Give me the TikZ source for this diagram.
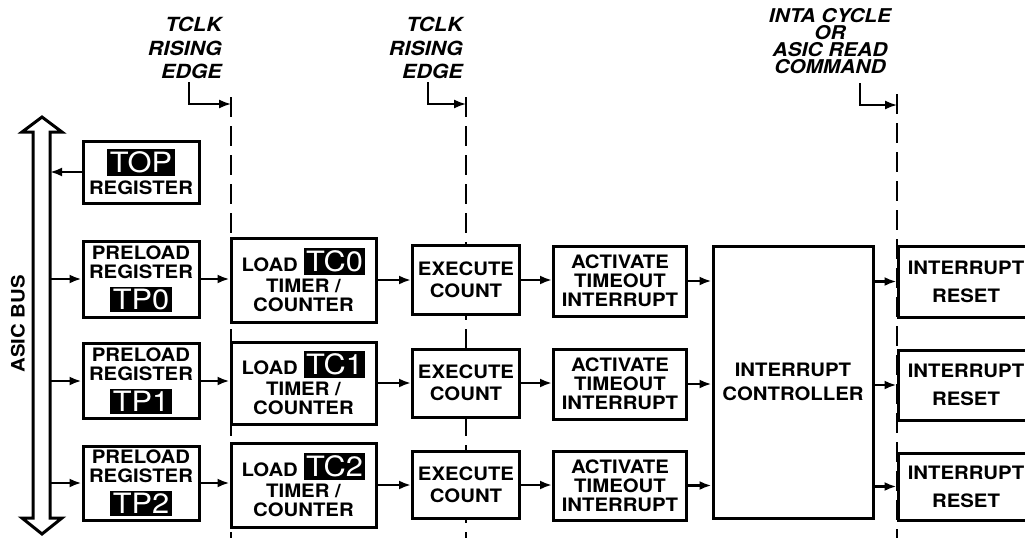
\documentclass[tikz,border=0pt]{standalone}
\usepackage{fontspec}
\setmainfont{TeX Gyre Heros}[FakeStretch=1.1]
\usetikzlibrary{arrows.meta}
\tikzset{blockbox/.style={draw=black,line width=3pt,fill=white,align=center,inner sep=0pt,
  font=\fontsize{18.5}{19}\selectfont\bfseries}}
\tikzset{sig/.style={line width=2.5pt,-{Latex[length=12pt,width=9pt]}}}
\tikzset{clkline/.style={line width=1.4pt,dash pattern=on 20pt off 9pt}}
\tikzset{edgelbl/.style={inner sep=0pt,font=\fontsize{19.5}{23.5}\selectfont\bfseries\itshape}}
\newcommand{\Blk}[1]{{\setlength{\fboxsep}{2.5pt}\colorbox{black}{\textcolor{white}{\fontsize{28}{28}\selectfont\mdseries #1}}}}

\begin{document}
\begin{tikzpicture}[x=1pt,y=-1pt]
\useasboundingbox (0,0) rectangle (1025,538);
\clip (0,0) rectangle (1025,538);
% \draw[help lines,step=50] (0,0) grid (1025,538);
\coordinate (bot) at (0,538);
\coordinate (clkA) at (231,97);
\coordinate (clkB) at (466,97);
\coordinate (clkC) at (897,94);
\draw[clkline] (clkA) -- (clkA |- bot);
\draw[clkline] (clkB) -- (clkB |- bot);
\draw[clkline] (clkC) -- (clkC |- bot);
%
\node (tclkA) [edgelbl,align=right,anchor=north east] at (222,17) {TCLK\\RISING\\EDGE};
\node (tclkB) [edgelbl,align=right,anchor=north east] at (463,17) {TCLK\\RISING\\EDGE};
\node (inta) [edgelbl,align=center,anchor=north,font=\fontsize{19}{17}\selectfont\bfseries\itshape] at (830,8) {INTA CYCLE\\OR\\ASIC READ\\COMMAND};
\coordinate (tA) at (189,82);
\coordinate (tB) at (428,82);
\coordinate (tC) at (860,83);
\draw[sig,line width=1.6pt] (tA) |- (clkA |- 0,104);
\draw[sig,line width=1.6pt] (tB) |- (clkB |- 0,104);
\draw[sig,line width=1.6pt] (tC) |- (clkC |- 0,105);
%
\draw[line width=3pt,line join=miter] (33,518) -- (33,132) -- (22,132) -- (42,117) -- (62,132) -- (50,132)
  -- (50,518) -- (62,518) -- (42,534) -- (22,518) -- cycle;
\coordinate (busR) at (50,0);
\node (buslbl) [rotate=90,inner sep=0pt,font=\fontsize{18.5}{18}\selectfont\bfseries] at (18,324) {ASIC BUS};
%
\node (top) [blockbox,minimum width=116,minimum height=62] at (141,172) {\Blk{TOP}\\[3pt]REGISTER};
\node (pre0) [blockbox,minimum width=116,minimum height=76] at (141,279) {PRELOAD\\REGISTER\\[7pt]\Blk{TP0}};
\node (pre1) [blockbox,minimum width=116,minimum height=75] at (141,381) {PRELOAD\\REGISTER\\[7pt]\Blk{TP1}};
\node (pre2) [blockbox,minimum width=116,minimum height=74] at (141,483) {PRELOAD\\REGISTER\\[7pt]\Blk{TP2}};
%
\node (load0) [blockbox,minimum width=145,minimum height=84] at (303.5,280) {LOAD \Blk{TC0}\\[2pt]TIMER /\\COUNTER};
\node (load1) [blockbox,minimum width=145,minimum height=82] at (303.5,383) {LOAD \Blk{TC1}\\[2pt]TIMER /\\COUNTER};
\node (load2) [blockbox,minimum width=145,minimum height=84] at (303.5,485) {LOAD \Blk{TC2}\\[2pt]TIMER /\\COUNTER};
%
\node (exe0) [blockbox,minimum width=107,minimum height=69] at (466,280) {EXECUTE\\[3pt]COUNT};
\node (exe1) [blockbox,minimum width=107,minimum height=68] at (466,383) {EXECUTE\\[3pt]COUNT};
\node (exe2) [blockbox,minimum width=107,minimum height=67] at (466,485) {EXECUTE\\[3pt]COUNT};
%
\node (act0) [blockbox,minimum width=133,minimum height=70] at (620,281) {ACTIVATE\\TIMEOUT\\INTERRUPT};
\node (act1) [blockbox,minimum width=133,minimum height=70] at (620,384) {ACTIVATE\\TIMEOUT\\INTERRUPT};
\node (act2) [blockbox,minimum width=133,minimum height=69] at (620,485.5) {ACTIVATE\\TIMEOUT\\INTERRUPT};
%
\node (ic) [blockbox,minimum width=160,minimum height=272] at (793,382) {INTERRUPT\\[5pt]CONTROLLER};
%
\node (rst0) [blockbox,minimum width=136,minimum height=71] at (966,281.5) {INTERRUPT\\[9pt]RESET};
\node (rst1) [blockbox,minimum width=136,minimum height=70] at (966,385) {INTERRUPT\\[9pt]RESET};
\node (rst2) [blockbox,minimum width=136,minimum height=67] at (966,486.5) {INTERRUPT\\[9pt]RESET};
%
\draw[sig] (top.west) -- (top.west -| busR);
\draw[sig] (pre0.west -| busR) -- (pre0.west);
\draw[sig] (pre1.west -| busR) -- (pre1.west);
\draw[sig] (pre2.west -| busR) -- (pre2.west);
\draw[sig] (pre0.east) -- (pre0.east -| load0.west);
\draw[sig] (pre1.east) -- (pre1.east -| load1.west);
\draw[sig] (pre2.east) -- (pre2.east -| load2.west);
\draw[sig] (load0.east) -- (load0.east -| exe0.west);
\draw[sig] (load1.east) -- (load1.east -| exe1.west);
\draw[sig] (load2.east) -- (load2.east -| exe2.west);
\draw[sig] (exe0.east) -- (exe0.east -| act0.west);
\draw[sig] (exe1.east) -- (exe1.east -| act1.west);
\draw[sig] (exe2.east) -- (exe2.east -| act2.west);
\draw[sig] (act0.east) -- (act0.east -| ic.west);
\draw[sig] (act1.east) -- (act1.east -| ic.west);
\draw[sig] (act2.east) -- (act2.east -| ic.west);
\draw[sig] (rst0.west -| ic.east) -- (rst0.west);
\draw[sig] (rst1.west -| ic.east) -- (rst1.west);
\draw[sig] (rst2.west -| ic.east) -- (rst2.west);
\end{tikzpicture}
\end{document}
